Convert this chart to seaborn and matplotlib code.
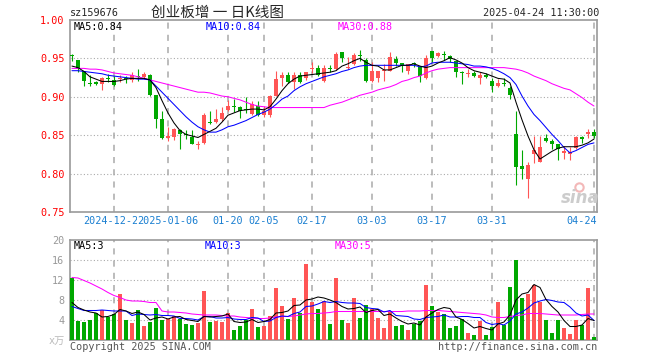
import numpy as np
import pandas as pd
import matplotlib
matplotlib.use('Agg')
import matplotlib.pyplot as plt
import matplotlib.transforms as mtransforms
import seaborn as sns

# ---- values (one entry per trading day) ----
tick_pos = [7, 16, 26, 32, 40, 50, 60, 70, 87]
tick_labels = ['2024-12-23', '2025-01-06', '01-20', '02-05', '02-17',
               '03-03', '03-17', '03-31', '04-24']

open_ = [0.9535, 0.9478, 0.9330, 0.9170, 0.9196, 0.9165, 0.9240, 0.9217, 0.9230, 0.9235,
         0.9222, 0.9265, 0.9252, 0.9283, 0.9022, 0.8709, 0.8461, 0.8483, 0.8570, 0.8508,
         0.8483, 0.8370, 0.8396, 0.8670, 0.8674, 0.8709, 0.8826, 0.8872, 0.8865, 0.8835,
         0.8774, 0.8883, 0.8761, 0.8761, 0.9013, 0.9243, 0.9283, 0.9196, 0.9283, 0.9239,
         0.9365, 0.9370, 0.9209, 0.9370, 0.9361, 0.9578, 0.9370, 0.9426, 0.9537, 0.9483,
         0.9209, 0.9243, 0.9330, 0.9339, 0.9491, 0.9439, 0.9330, 0.9430, 0.9383, 0.9243,
         0.9591, 0.9535, 0.9546, 0.9535, 0.9461, 0.9310, 0.9300, 0.9304, 0.9239, 0.9283,
         0.9209, 0.9143, 0.9170, 0.9113, 0.8522, 0.8100, 0.7926, 0.8252, 0.8157, 0.8461,
         0.8426, 0.8383, 0.8274, 0.8252, 0.8339, 0.8483, 0.8522, 0.8548]
close = [0.9530, 0.9361, 0.9209, 0.9165, 0.9165, 0.9243, 0.9235, 0.9157, 0.9239, 0.9230,
         0.9283, 0.9261, 0.9296, 0.9026, 0.8717, 0.8461, 0.8491, 0.8587, 0.8513, 0.8504,
         0.8391, 0.8374, 0.8761, 0.8665, 0.8717, 0.8787, 0.8883, 0.8870, 0.8813, 0.8830,
         0.8900, 0.8761, 0.8817, 0.9013, 0.9230, 0.9287, 0.9187, 0.9283, 0.9187, 0.9317,
         0.9370, 0.9283, 0.9370, 0.9365, 0.9557, 0.9500, 0.9374, 0.9543, 0.9533, 0.9209,
         0.9330, 0.9330, 0.9335, 0.9513, 0.9439, 0.9396, 0.9426, 0.9426, 0.9265, 0.9500,
         0.9500, 0.9570, 0.9543, 0.9491, 0.9317, 0.9308, 0.9304, 0.9274, 0.9283, 0.9252,
         0.9143, 0.9174, 0.9165, 0.9022, 0.8087, 0.8057, 0.8109, 0.8304, 0.8352, 0.8426,
         0.8383, 0.8317, 0.8296, 0.8283, 0.8483, 0.8448, 0.8548, 0.8491]
high = [0.9557, 0.9480, 0.9335, 0.9287, 0.9209, 0.9252, 0.9296, 0.9274, 0.9283, 0.9274,
        0.9317, 0.9361, 0.9317, 0.9296, 0.9026, 0.8817, 0.8609, 0.8590, 0.8575, 0.8570,
        0.8570, 0.8426, 0.8787, 0.8817, 0.8839, 0.8861, 0.8961, 0.8970, 0.8874, 0.8991,
        0.8943, 0.8943, 0.8883, 0.9022, 0.9330, 0.9326, 0.9317, 0.9317, 0.9317, 0.9326,
        0.9448, 0.9413, 0.9413, 0.9413, 0.9578, 0.9580, 0.9513, 0.9570, 0.9609, 0.9500,
        0.9457, 0.9335, 0.9426, 0.9578, 0.9535, 0.9440, 0.9430, 0.9448, 0.9404, 0.9543,
        0.9595, 0.9587, 0.9600, 0.9543, 0.9470, 0.9339, 0.9361, 0.9339, 0.9317, 0.9304,
        0.9239, 0.9230, 0.9239, 0.9143, 0.8817, 0.8304, 0.8157, 0.8491, 0.8491, 0.8513,
        0.8457, 0.8385, 0.8361, 0.8352, 0.8491, 0.8491, 0.8587, 0.8587]
low = [0.9470, 0.9317, 0.9143, 0.9143, 0.9152, 0.9091, 0.9187, 0.9135, 0.9196, 0.9174,
       0.9196, 0.9209, 0.9230, 0.9013, 0.8600, 0.8448, 0.8426, 0.8435, 0.8317, 0.8448,
       0.8383, 0.8317, 0.8383, 0.8643, 0.8665, 0.8687, 0.8817, 0.8796, 0.8730, 0.8787,
       0.8761, 0.8752, 0.8743, 0.8743, 0.9004, 0.9143, 0.9174, 0.9100, 0.9174, 0.9222,
       0.9304, 0.9274, 0.9187, 0.9317, 0.9352, 0.9448, 0.9361, 0.9413, 0.9470, 0.9196,
       0.9196, 0.9196, 0.9209, 0.9330, 0.9404, 0.9317, 0.9296, 0.9383, 0.9196, 0.9230,
       0.9448, 0.9513, 0.9483, 0.9457, 0.9252, 0.9165, 0.9252, 0.9252, 0.9165, 0.9239,
       0.9065, 0.9122, 0.9143, 0.8970, 0.7852, 0.7926, 0.7678, 0.8143, 0.8152, 0.8413,
       0.8317, 0.8178, 0.8187, 0.8178, 0.8317, 0.8404, 0.8470, 0.8470]

ma5 = [0.940, 0.938, 0.933, 0.926, 0.923, 0.920, 0.920, 0.920, 0.921, 0.923,
       0.924, 0.924, 0.924, 0.922, 0.912, 0.895, 0.879, 0.866, 0.856, 0.851,
       0.849, 0.847, 0.851, 0.855, 0.859, 0.867, 0.876, 0.879, 0.882, 0.883,
       0.884, 0.884, 0.883, 0.887, 0.897, 0.908, 0.917, 0.923, 0.927, 0.928,
       0.929, 0.930, 0.931, 0.932, 0.934, 0.940, 0.943, 0.947, 0.950, 0.945,
       0.941, 0.940, 0.935, 0.935, 0.938, 0.941, 0.941, 0.943, 0.940, 0.938,
       0.940, 0.944, 0.947, 0.951, 0.948, 0.944, 0.938, 0.934, 0.932, 0.930,
       0.927, 0.924, 0.923, 0.918, 0.893, 0.870, 0.849, 0.831, 0.819, 0.824,
       0.829, 0.833, 0.835, 0.835, 0.835, 0.837, 0.840, 0.845]
ma10 = [0.934, 0.934, 0.933, 0.932, 0.931, 0.930, 0.928, 0.927, 0.926, 0.925,
        0.924, 0.923, 0.923, 0.922, 0.914, 0.906, 0.898, 0.890, 0.882, 0.874,
        0.867, 0.861, 0.857, 0.854, 0.854, 0.857, 0.861, 0.863, 0.866, 0.869,
        0.873, 0.877, 0.880, 0.884, 0.890, 0.897, 0.901, 0.908, 0.913, 0.917,
        0.920, 0.923, 0.926, 0.928, 0.930, 0.933, 0.935, 0.938, 0.940, 0.941,
        0.941, 0.941, 0.941, 0.941, 0.941, 0.941, 0.941, 0.941, 0.939, 0.940,
        0.944, 0.945, 0.945, 0.945, 0.944, 0.943, 0.942, 0.940, 0.940, 0.939,
        0.937, 0.934, 0.930, 0.925, 0.916, 0.901, 0.888, 0.877, 0.869, 0.860,
        0.851, 0.843, 0.834, 0.827, 0.830, 0.834, 0.838, 0.840]
ma30 = [0.937, 0.937, 0.937, 0.936, 0.936, 0.935, 0.933, 0.931, 0.930, 0.929,
        0.928, 0.926, 0.924, 0.922, 0.920, 0.918, 0.916, 0.914, 0.912, 0.910,
        0.908, 0.906, 0.906, 0.905, 0.903, 0.901, 0.900, 0.898, 0.896, 0.893,
        0.890, 0.888, 0.887, 0.886, 0.886, 0.886, 0.886, 0.886, 0.886, 0.886,
        0.886, 0.886, 0.886, 0.889, 0.891, 0.893, 0.896, 0.899, 0.902, 0.904,
        0.906, 0.909, 0.911, 0.913, 0.916, 0.920, 0.922, 0.925, 0.927, 0.931,
        0.934, 0.936, 0.937, 0.938, 0.938, 0.938, 0.938, 0.938, 0.938, 0.938,
        0.938, 0.938, 0.938, 0.937, 0.936, 0.934, 0.931, 0.927, 0.924, 0.921,
        0.917, 0.914, 0.911, 0.909, 0.904, 0.899, 0.893, 0.888]

volume = [12.5, 3.8, 3.6, 4.0, 5.4, 6.0, 4.6, 5.3, 9.2, 4.0,
          3.4, 6.0, 2.8, 3.6, 6.4, 4.0, 4.2, 4.8, 4.2, 3.2,
          3.0, 3.4, 9.8, 3.6, 3.8, 3.6, 5.4, 2.0, 2.8, 4.0,
          6.2, 2.6, 2.8, 4.8, 10.4, 6.8, 4.2, 8.4, 5.4, 15.2,
          7.6, 6.2, 7.8, 3.2, 12.5, 4.0, 3.5, 8.5, 4.5, 7.0,
          6.2, 4.5, 2.5, 5.8, 2.8, 3.0, 2.0, 3.3, 3.8, 11.0,
          6.8, 5.7, 5.3, 2.5, 2.8, 4.2, 1.5, 1.0, 3.8, 1.0,
          2.7, 7.7, 3.0, 10.7, 16.0, 8.5, 9.3, 11.0, 7.7, 4.0,
          1.5, 4.0, 2.5, 1.3, 4.0, 3.0, 10.5, 0.7]
vol_ma5 = [7.5, 6.5, 6.0, 5.6, 5.4, 4.6, 4.7, 5.1, 6.1, 5.8,
           5.3, 5.6, 5.1, 4.0, 4.4, 4.6, 4.2, 4.6, 4.7, 4.1,
           3.9, 3.7, 4.7, 4.6, 4.7, 4.8, 5.2, 3.7, 3.5, 3.6,
           4.1, 3.5, 3.7, 4.1, 5.4, 5.5, 5.8, 6.9, 7.0, 8.0,
           8.2, 8.6, 8.4, 8.0, 7.5, 6.7, 6.2, 6.3, 6.6, 5.5,
           5.9, 6.1, 4.9, 5.2, 4.4, 3.7, 3.2, 3.4, 3.0, 4.6,
           5.4, 6.1, 6.5, 6.3, 4.6, 4.1, 3.3, 2.4, 2.7, 2.3,
           2.0, 3.2, 3.6, 5.0, 8.0, 9.2, 9.5, 11.1, 10.5, 8.1,
           6.7, 5.6, 3.9, 2.7, 2.7, 3.0, 4.3, 3.9]
vol_ma10 = [6.7, 6.3, 5.9, 5.9, 5.9, 6.0, 5.9, 5.8, 5.8, 5.8,
            4.9, 5.2, 5.1, 5.0, 5.1, 4.9, 4.9, 4.8, 4.3, 4.3,
            4.2, 4.0, 4.7, 4.7, 4.4, 4.4, 4.5, 4.2, 4.1, 4.1,
            4.5, 4.4, 3.7, 3.8, 4.5, 4.8, 4.7, 5.3, 5.6, 6.7,
            6.8, 7.2, 7.7, 7.5, 7.7, 7.5, 7.4, 7.4, 7.3, 6.5,
            6.3, 6.2, 5.6, 5.9, 4.9, 4.8, 4.7, 4.2, 4.1, 4.5,
            4.6, 4.7, 5.0, 4.6, 4.6, 4.7, 4.7, 4.5, 4.5, 3.5,
            3.1, 3.3, 3.0, 3.8, 5.2, 5.6, 6.4, 7.4, 7.8, 8.1,
            7.9, 7.6, 7.5, 6.6, 5.4, 4.8, 5.0, 3.9]
vol_ma30 = [12.5, 12.4, 11.9, 11.4, 10.8, 10.2, 9.5, 8.9, 8.5, 8.0,
            7.8, 7.8, 7.7, 7.5, 7.5, 5.8, 5.6, 5.6, 5.5, 5.4,
            5.2, 5.1, 5.0, 5.0, 5.0, 4.9, 4.8, 4.8, 4.6, 4.5,
            4.4, 4.3, 4.3, 4.4, 4.6, 4.7, 4.7, 4.8, 5.0, 5.2,
            5.3, 5.3, 5.4, 5.5, 5.7, 5.7, 5.7, 5.7, 5.7, 5.7,
            5.7, 5.7, 5.7, 5.7, 5.7, 5.7, 5.8, 5.8, 5.8, 5.9,
            5.9, 5.9, 5.8, 5.7, 5.6, 5.5, 5.4, 5.3, 5.2, 5.0,
            4.6, 4.5, 4.5, 4.7, 4.9, 5.0, 5.3, 5.3, 5.3, 5.2,
            5.1, 5.0, 5.0, 5.0, 5.0, 5.1, 5.2, 5.2]

sns.set_style('white')
plt.rcParams['font.family'] = ['DejaVu Sans Mono', 'Noto Sans CJK SC']

RED = '#ff5555'
GREEN = '#00a800'
GRID = '#aaaaaa'
FRAME = '#9a9a9a'
FS = 7.3
LW = 0.75

x = np.arange(len(close))
o = np.array(open_)
c = np.array(close)
up = c >= o
colors = np.where(up, RED, GREEN)

W, H = 660, 360
fig = plt.figure(figsize=(W / 100, H / 100), dpi=100)


def box(l, t, r, b):
    return [l / W, 1 - b / H, (r - l) / W, (b - t) / H]


ax = fig.add_axes(box(70, 20, 597, 212))
axv = fig.add_axes(box(70, 240, 597, 340))

# grid
for a in (ax, axv):
    for p in tick_pos:
        a.axvline(p, color=GRID, lw=1.1, ls=(0, (4, 4)), zorder=1)
for lv in [0.80, 0.85, 0.90, 0.95]:
    ax.axhline(lv, color=GRID, lw=0.8, ls=(0, (1, 2)), zorder=1)
for lv in [4, 8, 12, 16]:
    axv.axhline(lv, color=GRID, lw=0.8, ls=(0, (1, 2)), zorder=1)

# candles
ax.vlines(x, low, high, colors=colors, linewidth=0.8, zorder=3)
ax.bar(x, np.maximum(np.abs(c - o), 0.0013), bottom=np.minimum(o, c),
       width=0.8, color=colors, linewidth=0, zorder=4)

for vals, col in [(ma30, '#ff00ff'), (ma10, '#0000ff'), (ma5, 'black')]:
    sns.lineplot(x=x, y=vals, color=col, linewidth=LW, estimator=None, ax=ax, zorder=5)

# volume
vol_df = pd.DataFrame({'day': x, 'vol': volume, 'side': np.where(up, 'up', 'down')})
sns.barplot(data=vol_df, x='day', y='vol', hue='side', palette={'up': RED, 'down': GREEN},
            native_scale=True, dodge=False, width=0.8, errorbar=None, saturation=1,
            legend=False, linewidth=0, ax=axv, zorder=3)
for vals, col in [(vol_ma30, '#ff00ff'), (vol_ma10, '#0000ff'), (vol_ma5, 'black')]:
    sns.lineplot(x=x, y=vals, color=col, linewidth=LW, estimator=None, ax=axv, zorder=5)

for a in (ax, axv):
    a.set_xlim(-0.33, 87.5)
    a.set_xlabel('')
    a.set_ylabel('')
    a.set_xticks([])
    for s in a.spines.values():
        s.set_color(FRAME)
        s.set_linewidth(1.2)
    a.tick_params(axis='y', length=0, pad=4)

ax.set_ylim(0.75, 1.00)
ax.set_yticks([0.75, 0.80, 0.85, 0.90, 0.95, 1.00])
ax.set_yticklabels([f'{v:.2f}' for v in [0.75, 0.80, 0.85, 0.90, 0.95, 1.00]],
                   color='red', fontsize=FS)

axv.set_ylim(0, 20)
axv.set_yticks([0, 4, 8, 12, 16, 20])
axv.set_yticklabels(['x万', '4', '8', '12', '16', '20'], color='#999999', fontsize=FS)
axv.get_yticklabels()[0].set_color('#bbbbbb')

# date labels under the price panel
trans = mtransforms.blended_transform_factory(ax.transData, ax.transAxes)
ly = -9 / 192
for p, lab in zip(tick_pos[:-1], tick_labels[:-1]):
    kw = {}
    if lab == '2025-01-06':
        kw['bbox'] = dict(facecolor='white', edgecolor='none', pad=0)
    ax.text(p, ly, lab, transform=trans, ha='center', va='center',
            color='#1a7fd1', fontsize=FS, **kw)
ax.text(1.0, ly, tick_labels[-1], transform=ax.transAxes, ha='right', va='center',
        color='#1a7fd1', fontsize=FS)


def ftext(px, py, s, **kw):
    fig.text(px / W, 1 - py / H, s, va='center', **kw)


ftext(70, 13, 'sz159676', fontsize=FS)
ftext(151, 13, '创业板增 一 日K线图', fontsize=10.5, family=['Noto Sans CJK SC'])
ftext(599, 13, '2025-04-24 11:30:00', fontsize=FS, ha='right')
ftext(74, 27, 'MA5:0.84', fontsize=FS, color='black')
ftext(206, 27, 'MA10:0.84', fontsize=FS, color='#0000ff')
ftext(338, 27, 'MA30:0.88', fontsize=FS, color='#ff00ff')
ftext(74, 246, 'MA5:3', fontsize=FS, color='black')
ftext(205, 246, 'MA10:3', fontsize=FS, color='#0000ff')
ftext(335, 246, 'MA30:5', fontsize=FS, color='#ff00ff')
ftext(70, 347, 'Copyright 2025 SINA.COM', fontsize=FS, color='#555555')
ftext(597, 347, 'http://finance.sina.com.cn', fontsize=FS, color='#555555', ha='right')

# faint sina watermark: a pale eye mark and the word
ax.plot([0.965], [0.13], marker='o', markersize=6, markerfacecolor='none',
        markeredgecolor='#f3b8b8', markeredgewidth=1.5, transform=ax.transAxes, zorder=2)
ftext(580, 198, 'sina', fontsize=12, color='#cccccc', ha='center',
      fontstyle='italic', fontweight='bold', family=['DejaVu Sans'])

fig.savefig('out.png', dpi=100, facecolor='white')
